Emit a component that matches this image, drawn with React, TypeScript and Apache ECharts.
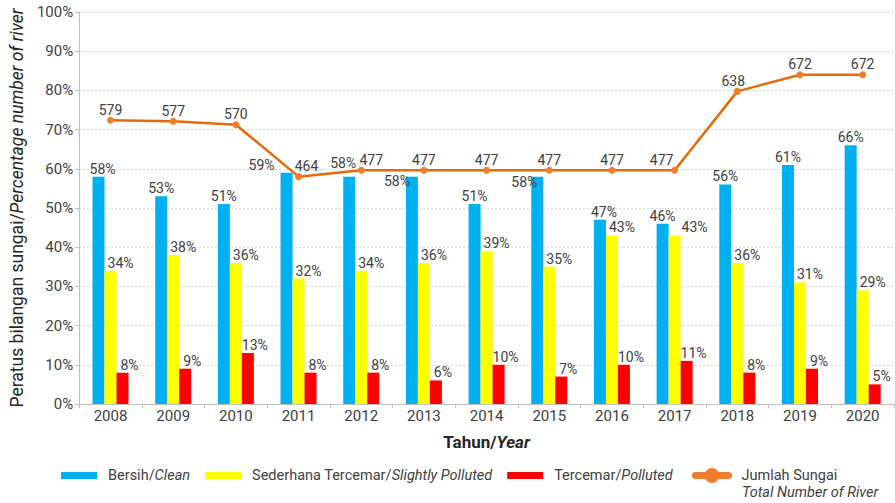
import React, { useEffect, useRef } from 'react';
import * as echarts from 'echarts';

const years = ['2008', '2009', '2010', '2011', '2012', '2013', '2014', '2015', '2016', '2017', '2018', '2019', '2020'];
const cleanPct = [58, 53, 51, 59, 58, 58, 51, 58, 47, 46, 56, 61, 66];
const slightPct = [34, 38, 36, 32, 34, 36, 39, 35, 43, 43, 36, 31, 29];
const pollutedPct = [8, 9, 13, 8, 8, 6, 10, 7, 10, 11, 8, 9, 5];
const riverCount = [579, 577, 570, 464, 477, 477, 477, 477, 477, 477, 638, 672, 672];

const nameClean = 'Bersih/Clean';
const nameSlight = 'Sederhana Tercemar/Slightly Polluted';
const namePolluted = 'Tercemar/Polluted';
const nameRiver = 'Jumlah Sungai';

// label layout tweaks (index -> [dx, dy])
const cleanLabelShift: Record<number, number[]> = { 0: [4, 0], 3: [-25, 0], 4: [-6, -6], 5: [-15, 12], 7: [-13, 13], 8: [4, 0] };
const slightLabelShift: Record<number, number[]> = { 9: [20, 0] };
const riverLabelShift: Record<number, number[]> = { 3: [8, 0], 4: [10, 0], 9: [-13, 0], 10: [-4, 0] };

const TXT = '#404040';
const FONT = 'Roboto';
const AXIS = '#bfbfbf';
const LEG_FS = 14.5;

const ORANGE_ICON =
  'path://M3.5,4 L36.5,4 A3.5,3.5 0 0 1 36.5,11 L3.5,11 A3.5,3.5 0 0 1 3.5,4 Z M12.5,7.5 A7.5,7.5 0 1 1 27.5,7.5 A7.5,7.5 0 1 1 12.5,7.5 Z';

export default function App() {
  const ref = useRef<HTMLDivElement>(null);
  useEffect(() => {
    document.body.style.margin = '0';
    const chart = echarts.init(ref.current!, null, { renderer: 'svg' });
    const baseLabel = {
      show: true,
      position: 'top',
      distance: 1,
      formatter: '{c}%',
      fontSize: 14,
      color: TXT,
      fontFamily: FONT,
    };
    const richLegend = {
      n: { fontSize: LEG_FS, color: TXT, fontFamily: FONT },
      i: { fontSize: LEG_FS, color: TXT, fontFamily: FONT, fontStyle: 'italic' },
    };
    const option: any = {
      animation: false,
      textStyle: { fontFamily: FONT },
      grid: { left: 75, right: 1, top: 12, bottom: 99, containLabel: false },
      legend: [
        {
          left: 56,
          top: 463,
          icon: 'rect',
          itemWidth: 36,
          itemHeight: 7,
          itemGap: 15,
          data: [nameClean, nameSlight, namePolluted],
          formatter: (name: string) => {
            const [a, b] = name.split('/');
            return `{n|${a}/}{i|${b}}`;
          },
          textStyle: { fontSize: LEG_FS, color: TXT, fontFamily: FONT, padding: [0, 0, 0, 6], rich: richLegend },
        },
        {
          left: 687,
          top: 463,
          itemWidth: 41,
          itemHeight: 15,
          data: [{ name: nameRiver, icon: ORANGE_ICON }],
          textStyle: { fontSize: LEG_FS, color: TXT, fontFamily: FONT, padding: [0, 0, 0, 4] },
        },
      ],
      graphic: [
        {
          type: 'text',
          left: 742,
          top: 485,
          style: {
            text: 'Total Number of River',
            fontSize: LEG_FS,
            fontStyle: 'italic',
            fill: TXT,
            fontFamily: FONT,
          },
        },
      ],
      xAxis: {
        type: 'category',
        data: years,
        boundaryGap: true,
        axisLine: { lineStyle: { color: AXIS, width: 1 } },
        axisTick: { show: true, length: 4, lineStyle: { color: AXIS } },
        axisLabel: { fontSize: 15, color: TXT, margin: 4, fontFamily: FONT },
        name: '{b|Tahun/}{bi|Year}',
        nameLocation: 'middle',
        nameGap: 29,
        nameTextStyle: {
          rich: {
            b: { fontSize: 17, fontWeight: 'bold', color: '#262626', fontFamily: FONT },
            bi: { fontSize: 17, fontWeight: 'bold', fontStyle: 'italic', color: '#262626', fontFamily: FONT },
          },
        },
      },
      yAxis: [
        {
          type: 'value',
          min: 0,
          max: 100,
          interval: 10,
          axisLine: { show: true, lineStyle: { color: AXIS, width: 1 } },
          axisTick: { show: true, length: 4, lineStyle: { color: AXIS } },
          axisLabel: { formatter: '{value}%', fontSize: 15, color: TXT, margin: 6, fontFamily: FONT },
          splitLine: { show: true, lineStyle: { color: '#d4d4d4', type: [2, 2], width: 1 } },
          name: '{n|Peratus bilangan sungai/}{i|Percentage number of river}',
          nameLocation: 'middle',
          nameRotate: 90,
          nameGap: 50,
          nameTextStyle: {
            rich: {
              n: { fontSize: 17.5, color: '#262626', fontFamily: FONT },
              i: { fontSize: 17.5, color: '#262626', fontFamily: FONT, fontStyle: 'italic' },
            },
          },
        },
        { type: 'value', min: 0, max: 800, show: false, splitLine: { show: false } },
      ],
      series: [
        {
          name: nameClean,
          type: 'bar',
          barWidth: 12,
          barGap: '0%',
          itemStyle: { color: '#00B0F0' },
          label: baseLabel,
          data: cleanPct.map((v, i) => ({
            value: v,
            label: cleanLabelShift[i] ? { offset: cleanLabelShift[i] } : undefined,
          })),
        },
        {
          name: nameSlight,
          type: 'bar',
          barWidth: 12,
          barGap: '0%',
          itemStyle: { color: '#FFFF00' },
          label: { ...baseLabel, offset: [10, 0] },
          data: slightPct.map((v, i) => ({
            value: v,
            label: slightLabelShift[i] ? { offset: slightLabelShift[i] } : undefined,
          })),
        },
        {
          name: namePolluted,
          type: 'bar',
          barWidth: 12,
          barGap: '0%',
          itemStyle: { color: '#FF0000' },
          label: { ...baseLabel, offset: [7, 0] },
          data: pollutedPct,
        },
        {
          name: nameRiver,
          type: 'line',
          yAxisIndex: 1,
          symbol: 'circle',
          symbolSize: 7,
          lineStyle: { color: '#E36C09', width: 2.5 },
          itemStyle: { color: '#F07E2C' },
          label: {
            show: true,
            position: 'top',
            distance: 0,
            fontSize: 14,
            color: TXT,
            fontFamily: FONT,
          },
          data: riverCount.map((v, i) => ({
            value: v,
            label: riverLabelShift[i] ? { offset: riverLabelShift[i] } : undefined,
          })),
        },
      ],
    };
    chart.setOption(option);
    return () => chart.dispose();
  }, []);
  return <div ref={ref} style={{ width: 895, height: 503 }} />;
}
